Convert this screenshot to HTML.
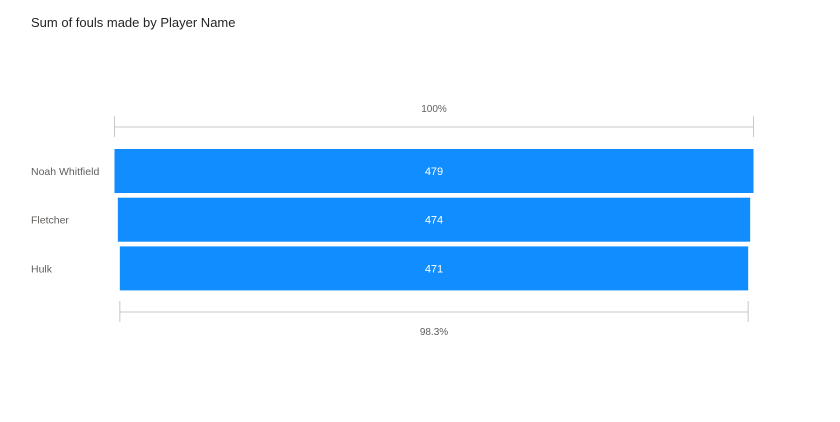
<!DOCTYPE html>
<html><head><meta charset="utf-8"><style>
body{margin:0;background:#fff;width:840px;height:417px;overflow:hidden;font-family:"Segoe UI","Liberation Sans",sans-serif}
</style></head><body>
<svg width="840" height="417">
<text x="31" y="27" font-size="13" fill="#252423" font-family="Liberation Sans, sans-serif">Sum of fouls made by Player Name</text>
<g id="g"></g>
</svg>
<script>
const categories=["Noah Whitfield","Fletcher","Hulk"];
const values=[479,474,471];
const topLabel="100%";
const bottomLabel="98.3%";
const NS="http://www.w3.org/2000/svg";
const g=document.getElementById('g');
const cx=434, maxW=639, y0=149, bh=44, step=48.7;
function w(v){return v/Math.max(...values)*maxW;}
function mk(t,a){const e=document.createElementNS(NS,t);for(const k in a)e.setAttribute(k,a[k]);g.appendChild(e);return e;}
function bracket(v,y,label,ly){
 const x1=cx-w(v)/2,x2=cx+w(v)/2;
 const grp=mk('g',{});
 
 
 [['line',{x1:x1,x2:x2,y1:y,y2:y}],['line',{x1:x1,x2:x1,y1:y-11,y2:y+10}],['line',{x1:x2,x2:x2,y1:y-11,y2:y+10}]].forEach(([t,a])=>{const l=mk(t,Object.assign(a,{stroke:'#c8c8c8','stroke-width':1}));grp.appendChild(l);});
 const tx=mk('text',{x:cx,y:ly,'text-anchor':'middle','font-size':10,fill:'#605e5c','font-family':'Liberation Sans, sans-serif'});
 tx.textContent=label;
 
 
}
bracket(values[0],127,topLabel,112);
values.forEach((v,i)=>{
 const y=y0+i*step;
 const r=mk('rect',{x:cx-w(v)/2,y:y,width:w(v),height:bh,fill:'#118DFF'});
 
 
 const t=mk('text',{x:cx,y:y+bh/2+4,'text-anchor':'middle','font-size':11,fill:'#fff','font-family':'Liberation Sans, sans-serif'});
 t.textContent=v;
 
 
 const c=mk('text',{x:31,y:y+bh/2+4,'font-size':10.5,fill:'#605e5c','font-family':'Liberation Sans, sans-serif'});
 c.textContent=categories[i];
 
 
});
bracket(values[values.length-1],312,bottomLabel,335);
</script>
</body></html>
